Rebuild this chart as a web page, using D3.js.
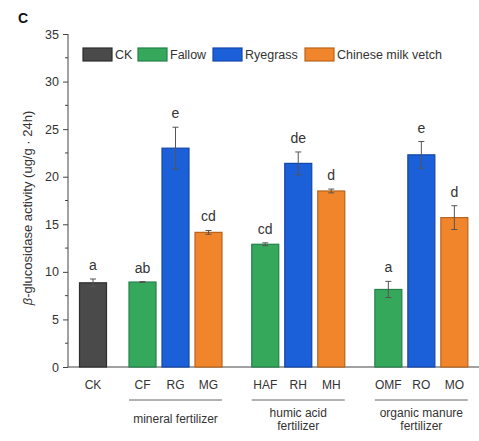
<!DOCTYPE html>
<html>
<head>
<meta charset="utf-8">
<script src="https://cdn.jsdelivr.net/npm/d3@7"></script>
<style>
  body { margin: 0; background: #fff; }
  text { font-family: "Liberation Sans", Arial, sans-serif; }
</style>
</head>
<body>
<div id="chart"></div>
<script>
// data
const categories = ['CK', 'CF', 'RG', 'MG', 'HAF', 'RH', 'MH', 'OMF', 'RO', 'MO']
const positions = [1, 2.5, 3.5, 4.5, 6.22, 7.22, 8.22, 9.95, 10.95, 11.95]
const values = [8.85, 8.93, 23.0, 14.15, 12.9, 21.4, 18.5, 8.15, 22.3, 15.7]
const errors = [0.4, 0.05, 2.2, 0.2, 0.15, 1.2, 0.2, 0.85, 1.4, 1.25]
const letters = ['a', 'ab', 'e', 'cd', 'cd', 'de', 'd', 'a', 'e', 'd']
const types = ['CK', 'Fallow', 'Ryegrass', 'Chinese milk vetch', 'Fallow', 'Ryegrass', 'Chinese milk vetch', 'Fallow', 'Ryegrass', 'Chinese milk vetch']
const legendNames = ['CK', 'Fallow', 'Ryegrass', 'Chinese milk vetch']
const fillColors = ['#4a4a4a', '#35a85c', '#1b5fd9', '#f0852b']
const strokeColors = ['#2e2e2e', '#23804a', '#1446a8', '#b8641c']
const groups = [
  { lines: ['mineral fertilizer'], from: 'CF', to: 'MG' },
  { lines: ['humic acid', 'fertilizer'], from: 'HAF', to: 'MH' },
  { lines: ['organic manure', 'fertilizer'], from: 'OMF', to: 'MO' }
]
const yTicks = [0, 5, 10, 15, 20, 25, 30, 35]

const width = 479
const height = 441
const margin = { top: 34, right: 0, bottom: 74, left: 68 }

const svg = d3.select('#chart').append('svg')
  .attr('width', width)
  .attr('height', height)

const y = d3.scaleLinear().domain([0, 35]).range([367, 34])
// 1 unit = 33px, CK sits at 93
const x = d3.scaleLinear().domain([0, 12.5]).range([60, 60 + 33 * 12.5])
const barW = 27

const color = d3.scaleOrdinal().domain(legendNames).range(fillColors)
const stroke = d3.scaleOrdinal().domain(legendNames).range(strokeColors)

// panel letter
svg.append('text')
  .attr('x', 18).attr('y', 23)
  .attr('font-size', 14).attr('font-weight', 'bold')
  .attr('fill', '#111')
  .text('C')

// y axis with minor ticks
const yAxis = svg.append('g')
  .attr('transform', `translate(${margin.left},0)`)
  .call(d3.axisLeft(y).tickValues(yTicks).tickSize(5).tickPadding(4))
yAxis.selectAll('text').attr('font-size', 12.5).attr('fill', '#333')
  .style('font-family', '"Liberation Sans", Arial, sans-serif')
yAxis.selectAll('line, path').attr('stroke', '#444')
yAxis.select('.domain').attr('d', `M0,${y(0)}V${y(35)}`)

const minor = d3.range(2.5, 35, 5)
svg.append('g').selectAll('line').data(minor).join('line')
  .attr('x1', margin.left - 3).attr('x2', margin.left)
  .attr('y1', d => y(d)).attr('y2', d => y(d))
  .attr('stroke', '#444')

// x axis line
svg.append('line')
  .attr('x1', margin.left).attr('x2', width)
  .attr('y1', y(0)).attr('y2', y(0))
  .attr('stroke', '#444').attr('stroke-width', 1.2)

// y title
svg.append('text')
  .attr('transform', `translate(32,208) rotate(-90)`)
  .attr('text-anchor', 'middle')
  .attr('font-size', 13).attr('fill', '#333')
  .call(t => {
    t.append('tspan').attr('font-style', 'italic').text('β')
    t.append('tspan').text('-glucosidase activity (ug/g · 24h)')
  })

const data = categories.map((c, i) => ({
  name: c, pos: positions[i], value: values[i], err: errors[i], letter: letters[i], type: types[i]
}))

// bars
svg.append('g').selectAll('rect').data(data).join('rect')
  .attr('x', d => x(d.pos) - barW / 2)
  .attr('width', barW)
  .attr('y', d => y(d.value))
  .attr('height', d => y(0) - y(d.value))
  .attr('fill', d => color(d.type))
  .attr('stroke', d => stroke(d.type))
  .attr('stroke-width', 1.2)

// error bars
const eb = svg.append('g').attr('stroke', '#555').attr('stroke-width', 1)
eb.selectAll('line.v').data(data).join('line').attr('class', 'v')
  .attr('x1', d => x(d.pos)).attr('x2', d => x(d.pos))
  .attr('y1', d => y(d.value + d.err)).attr('y2', d => y(d.value - d.err))
eb.selectAll('line.t').data(data).join('line').attr('class', 't')
  .attr('x1', d => x(d.pos) - 3).attr('x2', d => x(d.pos) + 3)
  .attr('y1', d => y(d.value + d.err)).attr('y2', d => y(d.value + d.err))
eb.selectAll('line.b').data(data).join('line').attr('class', 'b')
  .attr('x1', d => x(d.pos) - 3).attr('x2', d => x(d.pos) + 3)
  .attr('y1', d => y(d.value - d.err)).attr('y2', d => y(d.value - d.err))

// significance letters
svg.append('g').selectAll('text').data(data).join('text')
  .attr('x', d => x(d.pos))
  .attr('y', d => y(d.value + d.err) - 9)
  .attr('text-anchor', 'middle')
  .attr('font-size', 14).attr('fill', '#333')
  .text(d => d.letter)

// category labels
svg.append('g').selectAll('text').data(data).join('text')
  .attr('x', d => x(d.pos))
  .attr('y', 389)
  .attr('text-anchor', 'middle')
  .attr('font-size', 12).attr('fill', '#333')
  .text(d => d.name)

// group lines + labels
const posOf = name => positions[categories.indexOf(name)]
groups.forEach(g => {
  const x1 = x(posOf(g.from)) - barW / 2
  const x2 = x(posOf(g.to)) + barW / 2
  svg.append('line')
    .attr('x1', x1).attr('x2', x2)
    .attr('y1', 400).attr('y2', 400)
    .attr('stroke', '#666').attr('stroke-width', 1)
  const cx = (x1 + x2) / 2
  g.lines.forEach((l, i) => {
    svg.append('text')
      .attr('x', cx)
      .attr('y', (g.lines.length === 1 ? 423 : 417) + i * 13)
      .attr('text-anchor', 'middle')
      .attr('font-size', 12).attr('fill', '#333')
      .text(l)
  })
})

// legend
const legendX = [83, 138, 213, 305]
const lg = svg.append('g')
legendNames.forEach((n, i) => {
  lg.append('rect')
    .attr('x', legendX[i]).attr('y', 48)
    .attr('width', 29).attr('height', 13)
    .attr('fill', color(n)).attr('stroke', stroke(n)).attr('stroke-width', 1.2)
  lg.append('text')
    .attr('x', legendX[i] + 32).attr('y', 59)
    .attr('font-size', 12.5).attr('fill', '#333')
    .text(n)
})
</script>
</body>
</html>
